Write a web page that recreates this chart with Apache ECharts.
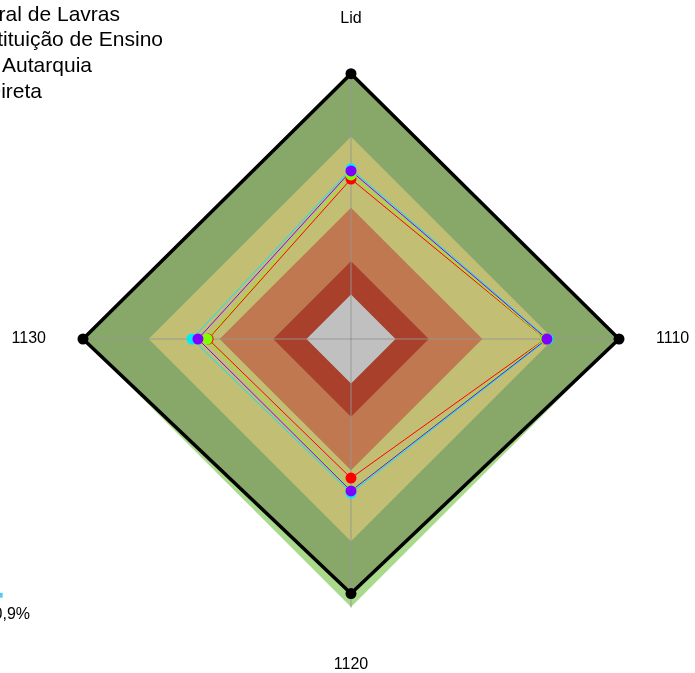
<!DOCTYPE html>
<html>
<head>
<meta charset="utf-8">
<script src="https://cdn.jsdelivr.net/npm/echarts@6/dist/echarts.min.js"></script>
<style>html,body{margin:0;padding:0;background:#fff;}#c{width:695px;height:673px;}</style>
</head>
<body>
<div id="c"></div>
<script>
// Axes in drawing order (top, left, bottom, right)
const axes = ['Lid', '1130', '1120', '1110'];
const seriesNames = ['Universidade Federal de Lavras', 'Média Instituição de Ensino', 'Média Autarquia', 'Média Direta'];
const seriesColors = ['#FF0000', '#80FF00', '#00E8FF', '#8000FF'];
const redVals = [59.7, 53.3, 51.9, 72.5];
const greenVals = [61.2, 53.7, 56.5, 72.5];
const cyanVals = [63.5, 59.3, 57.5, 73.5];
const purpleVals = [62.7, 57.1, 56.7, 73.1];
const maxVals = [99, 100, 95, 100];
const bandLevels = [100, 75.5, 49, 29, 16.6];
const bandColors = ['#A9D98B', '#C2BF74', '#C07850', '#A9402B', '#C0C0C0'];
const footText = 'Média Geral: 70,9%';

const FONT = 'Liberation Sans, Arial, sans-serif';
const dataVals = [redVals, greenVals, cyanVals, purpleVals];

const series = [];
function band(level, color) {
  return {
    type: 'radar', z: 1, silent: true, symbol: 'none',
    lineStyle: { width: 0, opacity: 0 },
    areaStyle: { color: color, opacity: 1 },
    data: [{ value: axes.map(() => level) }]
  };
}
series.push(band(bandLevels[0], bandColors[0]));
// filled area of the maximum polygon
series.push({
  type: 'radar', z: 1, silent: true, symbol: 'none',
  lineStyle: { width: 0, opacity: 0 },
  areaStyle: { color: '#88A86A', opacity: 1 },
  data: [{ value: maxVals }]
});
for (let i = 1; i < bandLevels.length; i++) series.push(band(bandLevels[i], bandColors[i]));
// outline of the maximum polygon
series.push({
  type: 'radar', z: 9, silent: true, symbol: 'circle', symbolSize: 11,
  itemStyle: { color: '#000' },
  lineStyle: { color: '#000', width: 3.5 },
  data: [{ value: maxVals }]
});
dataVals.forEach((v, i) => {
  series.push({
    type: 'radar', z: 10, name: seriesNames[i], symbol: 'circle', symbolSize: 11,
    itemStyle: { color: seriesColors[i] },
    lineStyle: { color: seriesColors[i], width: 1 },
    data: [{ value: v, name: seriesNames[i] }]
  });
});

const legendY = [15.5, 40.5, 66, 92];
const legendRight = [120, 163, 92, 42];
const graphics = seriesNames.map((n, i) => ({
  type: 'text', x: legendRight[i], y: legendY[i],
  style: { text: n, fill: '#000', font: '21px ' + FONT, textAlign: 'right', textVerticalAlign: 'middle' }
}));
graphics.push({ type: 'text', x: 30, y: 615, style: { text: footText, fill: '#000', font: '16px ' + FONT, textAlign: 'right', textVerticalAlign: 'middle' } });
graphics.push({ type: 'text', x: 3, y: 595, style: { text: '■', fill: '#55CCEE', font: '10px ' + FONT, textAlign: 'right', textVerticalAlign: 'middle' } });

const chart = echarts.init(document.getElementById('c'), null, { renderer: 'canvas' });
chart.setOption({
  backgroundColor: '#fff',
  animation: false,
  radar: {
    z: 5,
    center: [351, 339],
    radius: 268,
    startAngle: 90,
    shape: 'polygon',
    splitNumber: 1,
    nameGap: 37,
    indicator: axes.map(a => ({ name: a, min: 0, max: 100 })),
    axisName: {
      color: '#000', fontSize: 16, fontFamily: FONT,
      formatter: function (n) {
        if (n === 'Lid') return '{v|' + n + '}';
        if (n === '1120') return '{b|' + n + '}';
        return '{h|' + n + '}';
      },
      rich: {
        v: { fontSize: 16, fontFamily: FONT, color: '#000', padding: [0, 0, 7, 0] },
        b: { fontSize: 16, fontFamily: FONT, color: '#000', padding: [13, 0, 0, 0] },
        h: { fontSize: 16, fontFamily: FONT, color: '#000' }
      }
    },
    splitLine: { show: false },
    splitArea: { show: false },
    axisTick: { show: false },
    axisLabel: { show: false },
    axisLine: { lineStyle: { color: 'rgba(150,150,150,0.6)', width: 1.5 } }
  },
  graphic: graphics,
  series: series
});
</script>
</body>
</html>
